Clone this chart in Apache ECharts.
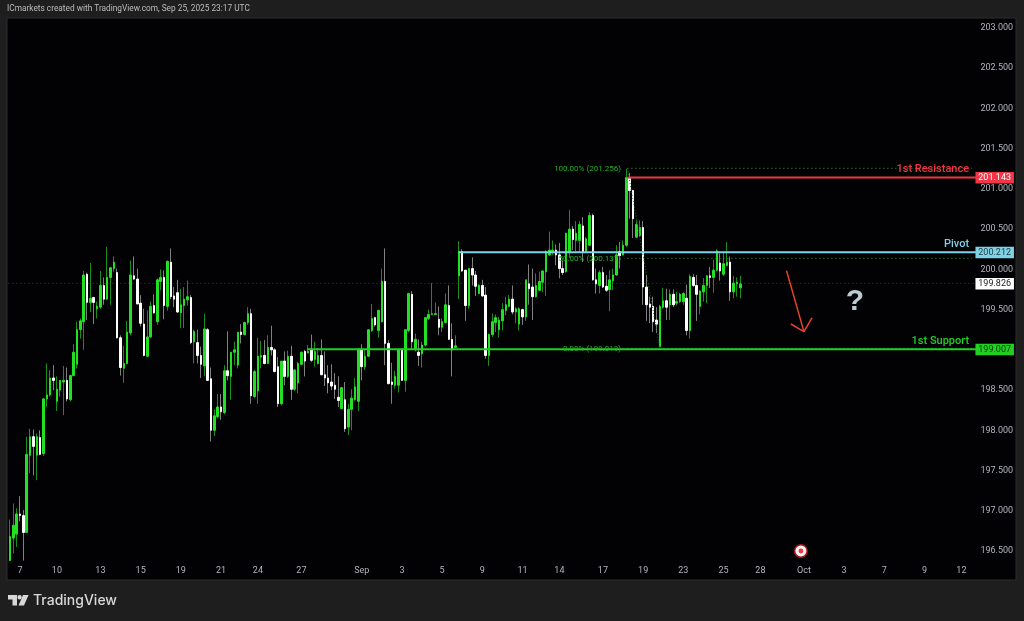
<!DOCTYPE html>
<html><head><meta charset="utf-8">
<script src="https://cdn.jsdelivr.net/npm/echarts@6/dist/echarts.min.js"></script>
<style>html,body{margin:0;padding:0;background:#1e1e1e}#c{width:1024px;height:621px}</style>
</head><body><div id="c"></div>
<script>
const directions = "uuudduudud"+"uuuduuuduu"+"uuududuudu"+"uudduuuddd"+"duuduududd"+"duuududdud"+"duududuuud"+"uuduuududd"+"dududuuudu"+"duuddddddu"+"duuuuduuud"+"uuddduuduu"+"duduuuuudu"+"udduuddudd"+"udduuuuuuu"+"duududduuu"+"uuuddduudu"+"uduudduddu"+"uuduudduud"+"dddduududu"+"uududduuud"+"uuduuduuu";
const highs=[196.89,197.09,197.03,197.18,197.01,197.92,198.02,198.01,197.96,198.00,
198.40,198.83,198.75,198.81,198.67,198.62,198.80,198.78,198.69,199.07,
199.35,199.39,199.98,199.96,200.08,199.66,199.60,199.98,199.90,200.28,
200.03,200.16,200.01,199.18,199.05,199.36,200.11,200.16,200.01,199.68,
199.51,199.49,199.60,199.69,199.89,200.00,199.99,200.11,200.26,199.78,
199.87,199.76,199.78,199.86,199.68,199.25,199.25,199.04,199.45,199.27,
198.78,198.26,198.45,198.45,198.81,199.23,198.97,199.10,199.22,199.32,
199.35,199.53,199.51,198.75,199.15,199.11,199.12,199.18,199.30,199.02,
198.91,198.86,198.98,198.99,199.05,198.76,198.85,198.98,199.00,199.06,
199.19,199.10,199.02,199.13,198.98,198.81,198.82,198.71,198.67,198.54,
198.60,198.33,198.51,198.65,199.02,199.07,199.00,199.25,199.57,199.41,
199.50,200.01,200.26,199.12,198.84,198.74,199.01,199.02,199.25,199.71,
199.73,199.20,199.13,199.10,199.41,199.50,199.83,199.59,199.54,199.39,
199.70,199.80,199.33,199.18,200.35,200.25,199.99,200.01,200.15,199.98,
199.82,199.87,199.78,199.20,199.45,199.44,199.41,199.58,199.66,199.68,
199.80,199.53,199.53,199.51,199.87,200.06,200.01,199.95,199.97,199.99,
200.24,200.47,200.36,200.31,200.33,200.11,200.45,200.74,200.54,200.60,
200.60,200.65,200.40,200.71,200.69,200.01,199.99,200.03,199.93,199.99,
200.01,200.30,200.34,200.36,201.25,201.20,200.99,200.61,200.61,200.60,
199.93,199.66,199.66,199.53,199.56,199.77,199.76,199.75,199.75,199.72,
199.71,199.72,199.81,199.94,199.94,199.93,199.74,199.89,199.93,200.03,
200.12,200.25,200.20,200.20,200.34,200.16,199.92,199.90,199.92];
const bodyHi=[196.68,196.82,196.96,196.96,196.94,197.70,197.92,197.92,197.92,197.91,
198.39,198.44,198.65,198.65,198.51,198.62,198.62,198.62,198.68,198.97,
199.25,199.36,199.93,199.94,199.64,199.65,199.54,199.80,199.80,199.90,
200.02,200.09,199.96,199.15,198.83,199.22,199.93,199.92,199.88,199.58,
199.32,199.16,199.54,199.55,199.87,199.90,199.90,200.10,200.09,199.67,
199.71,199.56,199.63,199.66,199.65,199.23,199.09,198.93,199.26,199.25,
198.64,198.18,198.29,198.29,198.74,198.74,198.97,199.00,199.22,199.22,
199.34,199.45,199.45,198.73,198.92,198.93,198.93,199.03,199.03,199.00,
198.79,198.86,198.86,198.92,198.92,198.75,198.83,198.97,198.98,198.98,
199.00,198.98,198.93,198.93,198.69,198.65,198.60,198.56,198.41,198.53,
198.38,198.26,198.40,198.54,199.01,199.00,198.92,199.25,199.39,199.40,
199.49,199.85,199.85,199.08,198.60,198.67,199.00,199.00,199.25,199.70,
199.69,199.13,198.97,199.06,199.40,199.44,199.45,199.45,199.38,199.35,
199.56,199.55,199.13,199.05,200.22,200.22,199.99,200.01,200.01,199.93,
199.80,199.80,199.68,199.19,199.35,199.40,199.37,199.50,199.56,199.63,
199.63,199.51,199.51,199.50,199.87,199.82,199.78,199.80,199.85,199.98,
200.22,200.24,200.24,200.24,200.18,200.01,200.45,200.50,200.50,200.45,
200.56,200.54,200.38,200.67,200.67,199.87,199.96,199.96,199.79,199.87,
199.93,200.18,200.22,200.30,201.14,201.13,200.98,200.56,200.52,200.52,
199.78,199.57,199.54,199.37,199.54,199.61,199.61,199.69,199.69,199.60,
199.69,199.70,199.64,199.91,199.90,199.80,199.73,199.80,199.92,199.92,
199.99,200.23,200.08,200.07,200.09,200.09,199.83,199.84,199.82];
const bodyLo=[196.38,196.66,196.71,196.94,196.73,196.73,197.69,197.80,197.69,197.70,
197.71,198.39,198.44,198.62,198.36,198.50,198.60,198.39,198.38,198.68,
198.82,199.25,199.35,199.59,199.59,199.59,199.51,199.53,199.63,199.63,
199.90,200.01,199.15,198.78,198.77,198.83,199.21,199.88,199.57,199.33,
198.93,198.92,199.16,199.46,199.35,199.85,199.55,199.54,199.66,199.63,
199.47,199.46,199.55,199.62,199.09,199.10,198.93,198.82,198.80,198.62,
198.00,198.00,198.17,198.23,198.22,198.68,198.67,198.97,198.81,199.19,
199.19,199.34,198.43,198.42,198.49,198.91,198.83,198.83,199.00,198.73,
198.33,198.33,198.67,198.67,198.51,198.51,198.59,198.82,198.86,198.96,
198.87,198.88,198.83,198.69,198.65,198.59,198.55,198.51,198.37,198.27,
198.02,198.04,198.26,198.38,198.36,198.79,198.79,198.92,199.24,199.31,
199.24,199.35,199.08,198.58,198.57,198.56,198.56,198.62,198.62,199.24,
199.10,199.00,198.93,198.95,199.06,199.39,199.44,199.44,199.28,199.28,
199.34,199.13,199.00,199.03,199.92,199.98,199.55,199.55,199.93,199.79,
199.70,199.67,198.93,198.93,199.19,199.34,199.25,199.36,199.49,199.54,
199.47,199.47,199.32,199.41,199.41,199.76,199.66,199.66,199.74,199.84,
199.97,200.18,200.22,200.18,200.01,199.96,199.97,200.22,200.37,200.36,
200.36,200.22,200.22,200.30,199.87,199.82,199.80,199.78,199.74,199.75,
199.86,199.93,200.17,200.18,200.30,200.98,200.63,200.40,200.42,199.78,
199.56,199.53,199.35,199.32,199.04,199.53,199.53,199.56,199.56,199.58,
199.60,199.60,199.24,199.24,199.80,199.69,199.54,199.72,199.80,199.90,
199.90,199.99,199.98,199.94,200.05,199.72,199.72,199.82,199.77];
const lows=[196.38,196.47,196.55,196.87,196.38,196.73,197.47,197.44,197.38,197.69,
197.68,198.29,198.42,198.50,198.24,198.42,198.19,198.36,198.36,198.67,
198.77,199.14,199.00,199.37,199.47,199.32,199.39,199.51,199.56,199.62,
199.56,199.97,199.14,198.68,198.59,198.82,199.18,199.87,199.57,199.29,
198.92,198.91,199.15,199.45,199.31,199.74,199.38,199.49,199.63,199.53,
199.46,199.27,199.27,199.55,199.07,198.83,198.83,198.65,198.67,198.62,
197.86,197.93,198.15,198.13,198.20,198.62,198.38,198.81,198.77,199.08,
199.18,199.31,198.33,198.40,198.33,198.77,198.82,198.83,198.93,198.72,
198.29,198.31,198.56,198.65,198.38,198.49,198.46,198.81,198.67,198.96,
198.85,198.79,198.82,198.69,198.55,198.46,198.50,198.39,198.29,198.26,
197.98,197.94,198.00,198.37,198.24,198.62,198.75,198.91,199.22,199.29,
199.15,199.34,198.81,198.57,198.33,198.52,198.47,198.62,198.48,199.22,
199.00,198.98,198.80,198.78,199.04,199.37,199.43,199.43,199.18,199.22,
199.33,199.13,198.67,199.03,199.63,199.97,199.36,199.51,199.80,199.67,
199.69,199.66,198.89,198.80,199.16,199.22,199.15,199.24,199.43,199.53,
199.44,199.33,199.24,199.31,199.36,199.56,199.37,199.65,199.73,199.72,
199.67,200.17,200.18,200.05,199.89,199.93,199.96,200.14,200.24,200.22,
200.22,200.09,200.21,200.29,199.86,199.70,199.70,199.77,199.72,199.48,
199.74,199.92,200.01,200.17,200.28,200.63,200.39,200.39,200.40,199.56,
199.36,199.33,199.22,199.21,199.03,199.51,199.37,199.37,199.53,199.55,
199.58,199.56,199.18,199.14,199.78,199.36,199.44,199.60,199.58,199.77,
199.71,199.98,199.86,199.92,200.04,199.61,199.64,199.66,199.64];

const yTicks=[196.5,197,197.5,198,198.5,199,199.5,200,200.5,201,201.5,202,202.5,203];
const xTickIndex=[3,14,27,39,51,63,74,87,105,117,129,141,153,164,177,189,201,213,224,237,249,261,273,284];
const xTickLabels=["7","10","13","15","19","21","24","27","Sep","3","5","9","11","14","17","19","23","25","28","Oct","3","7","9","12"];
const bandCount=289;

const levelPrices=[201.143,200.212,199.007];
const levelNames=["1st Resistance","Pivot","1st Support"];
const levelColors=["#f23645","#7fd3e6","#22d022"];
const levelStart=[184.5,134,88.7];
const levelLabelPrice=[201.254,200.322,199.122];
const lastPrice=199.826;

const fibPrices=[201.256,200.137,199.018];
const fibLabels=["100.00% (201.256)","50.00% (200.137)","0.00% (199.018)"];
const fibStart=184.3, fibEnd=287.2, fibLabelAt=182.4, fibLow=194;

const arrowShaft=[[231.8,199.984],[237,199.226]];
const arrowHead=[[233.1,199.321],[237,199.226],[239.4,199.396]];
const questionAt=[252.2,199.607];
const targetAt=[236.1,196.5];

const UI_FONT="Roboto, 'Noto Sans', sans-serif";
const opens=highs.map((_,i)=>directions[i]==='u'?bodyLo[i]:bodyHi[i]);
const closes=highs.map((_,i)=>directions[i]==='u'?bodyHi[i]:bodyLo[i]);
const categories=Array.from({length:bandCount},(_,i)=>{const k=xTickIndex.indexOf(i);return k>=0?xTickLabels[k]:'';});

function flatLine(name,pts,color,width,type,z){
  return {name,type:'line',xAxisIndex:1,yAxisIndex:0,data:pts,symbol:'none',silent:true,z:z||3,clip:false,
    lineStyle:{color,width,type:type||'solid'},animation:false};
}
function textSeries(name,items){
  return {name,type:'custom',xAxisIndex:1,yAxisIndex:0,silent:true,z:6,clip:false,
    data:items.map(t=>[t.x,t.y]),
    renderItem(params,api){
      const t=items[params.dataIndex];
      const p=api.coord([api.value(0),api.value(1)]);
      return {type:'text',x:p[0],y:p[1]+1,style:{text:t.text,fill:t.color,font:t.font,textAlign:t.align,textVerticalAlign:'middle'}};
    }};
}
const series=[];
series.push({name:'wicks',type:'candlestick',xAxisIndex:0,yAxisIndex:0,barWidth:1,z:2,silent:true,
  data:highs.map((_,i)=>[opens[i],closes[i],lows[i],highs[i]]),
  itemStyle:{color:'#147a14',color0:'#6f6f6f',borderColor:'#1a8f1a',borderColor0:'#808080',borderWidth:1}});
series.push({name:'bodies',type:'candlestick',xAxisIndex:0,yAxisIndex:0,barWidth:2,z:2.5,silent:true,
  data:highs.map((_,i)=>[opens[i],closes[i],bodyLo[i],bodyHi[i]]),
  itemStyle:{color:'#22e022',color0:'#ffffff',borderColor:'#22e022',borderColor0:'#ffffff',borderWidth:1}});

series.push(flatLine('last',[[-0.5,lastPrice],[bandCount-0.5,lastPrice]],'#3a3a3a',1,[1,3],1));
levelPrices.forEach((p,i)=>series.push(flatLine(levelNames[i],[[levelStart[i],p],[bandCount-0.5,p]],levelColors[i],2,'solid',4)));
fibPrices.forEach((p,i)=>series.push(flatLine(fibLabels[i],[[fibStart,p],[fibEnd,p]],'#22b022',1,[1,3],3)));
series.push(flatLine('fibTrend',[[fibStart,fibPrices[0]],[fibLow,fibPrices[2]]],'#1a7a1a',1,[1,2],3));
series.push(flatLine('arrow',arrowShaft,'#e8432f',1.5,'solid',5));
series.push(flatLine('arrowHead',arrowHead,'#e8432f',1.5,'solid',5));

series.push(textSeries('fibText',fibLabels.map((t,i)=>({x:fibLabelAt,y:fibPrices[i],text:t,color:'#24b024',font:'8px '+UI_FONT,align:'right'}))));
series.push(textSeries('levelText',levelNames.map((t,i)=>({x:286.3,y:levelLabelPrice[i],text:t,color:levelColors[i],font:'500 11px '+UI_FONT,align:'right'}))));
series.push(textSeries('question',[{x:questionAt[0],y:questionAt[1],text:'?',color:'#bccbd3',font:"bold 30px 'Liberation Sans', sans-serif",align:'center'}]));

const tagPrices=[...levelPrices,lastPrice];
const tagFills=[levelColors[0],levelColors[1],levelColors[2],'#ffffff'];
const tagInk=['#ffffff','#1c3a44','#0c3a0c','#222222'];
series.push({name:'priceTags',type:'custom',xAxisIndex:1,yAxisIndex:0,silent:true,z:7,clip:false,
  data:tagPrices.map(p=>[0,p]),
  renderItem(params,api){
    const i=params.dataIndex, y=api.coord([0,api.value(1)])[1];
    const L=params.coordSys.x+params.coordSys.width-1;
    return {type:'group',children:[
      {type:'rect',shape:{x:L,y:y-5.5,width:38.5,height:11.5},style:{fill:tagFills[i]}},
      {type:'text',x:L+19.2,y:y+0.8,style:{text:api.value(1).toFixed(3),fill:tagInk[i],font:'9px '+UI_FONT,textAlign:'center',textVerticalAlign:'middle'}}
    ]};
  }});
series.push({name:'target',type:'custom',xAxisIndex:1,yAxisIndex:0,silent:true,z:7,clip:false,
  data:[targetAt],
  renderItem(params,api){
    const p=api.coord([api.value(0),api.value(1)]);
    return {type:'group',children:[
      {type:'circle',shape:{cx:p[0],cy:p[1],r:7},style:{fill:'#a8141e'}},
      {type:'circle',shape:{cx:p[0],cy:p[1],r:5.5},style:{fill:'#f4f4f4'}},
      {type:'circle',shape:{cx:p[0],cy:p[1],r:2.4},style:{fill:'#f23645'}}
    ]};
  }});

const chart=echarts.init(document.getElementById('c'),null,{renderer:'canvas',width:1024,height:621});
chart.setOption({
  animation:false,
  backgroundColor:'#1e1e1e',
  title:{text:'ICmarkets created with TradingView.com, Sep 25, 2025 23:17 UTC',left:7,top:5,padding:0,
    textStyle:{color:'#bcbcbc',fontSize:8.3,fontWeight:'normal',fontFamily:UI_FONT}},
  grid:{left:8.3,top:18,width:968.15,height:560,containLabel:false},
  xAxis:[
    {type:'category',data:categories,boundaryGap:true,axisLine:{show:false},axisTick:{show:false},splitLine:{show:false},
      axisLabel:{interval:0,color:'#b2b5be',fontSize:9,fontFamily:UI_FONT,margin:-12,hideOverlap:false,showMinLabel:true,showMaxLabel:true}},
    {type:'value',min:-0.5,max:bandCount-0.5,show:false}
  ],
  yAxis:[{type:'value',position:'right',min:196.1642,max:203.1243,splitLine:{show:false},axisLine:{show:false},axisTick:{show:false},
    axisLabel:{customValues:yTicks,color:'#b2b5be',fontSize:9,fontFamily:UI_FONT,margin:4,padding:[3,0,0,0],formatter:v=>Number(v).toFixed(3)}}],
  graphic:{elements:[
    {type:'rect',z:-10,silent:true,shape:{x:7,y:18,width:1009,height:562},style:{fill:'#020204',stroke:'#2c2c2c',lineWidth:1}},
    {type:'group',silent:true,children:[
      {type:'polygon',shape:{points:[[8,595],[17,595],[17,605.5],[12.5,605.5],[12.5,599.5],[8,599.5]]},style:{fill:'#d8d8d8'}},
      {type:'circle',shape:{cx:19.6,cy:597.2,r:2.2},style:{fill:'#d8d8d8'}},
      {type:'polygon',shape:{points:[[23,595],[28.6,595],[24,605.5],[18.5,605.5]]},style:{fill:'#d8d8d8'}},
      {type:'text',x:33,y:600.8,style:{text:'TradingView',fill:'#d8d8d8',font:"500 14px Inter, Roboto, sans-serif",textVerticalAlign:'middle'}}
    ]}
  ]},
  series
});
</script>
</body></html>
